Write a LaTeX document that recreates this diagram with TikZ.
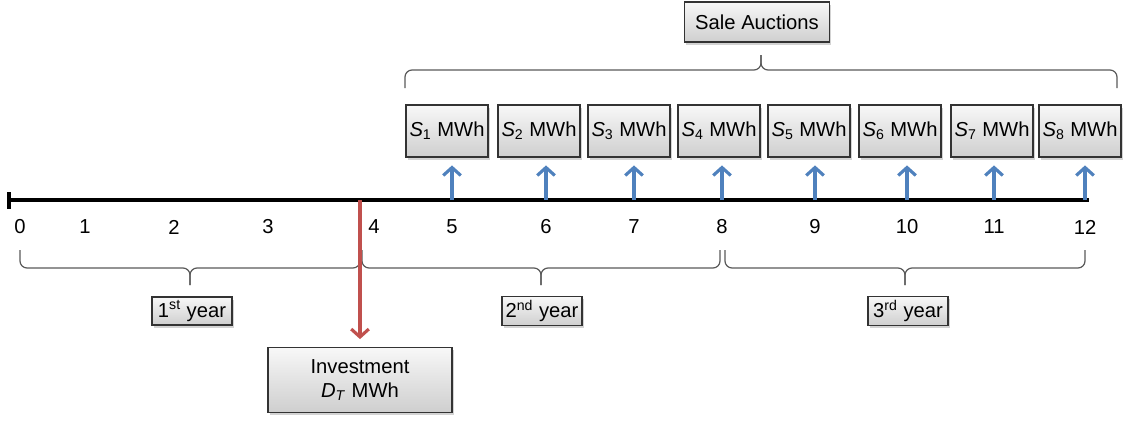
\documentclass[tikz,border=0pt]{standalone}
\usepackage{fontspec}
\setmainfont{Liberation Sans}
\usetikzlibrary{arrows.meta, positioning, shadows}
\definecolor{axblue}{HTML}{4F81BD}
\definecolor{axred}{HTML}{C0504D}
\definecolor{bracegray}{HTML}{595959}

\newcommand{\curlybrace}[5]{% x1, x2, y ends, y bar, y tip
  \draw[brace] (#1,#3) -- (#1,#4) -- ({(#1+#2)/2},#4) -- ({(#1+#2)/2},#5);
  \draw[brace] (#2,#3) -- (#2,#4) -- ({(#1+#2)/2},#4) -- ({(#1+#2)/2},#5);
}

\begin{document}
\begin{tikzpicture}[
    x=0.02cm, y=-0.02cm,
    every node/.style={font=\fontsize{11.5}{13.5}\selectfont},
    gbox/.style={draw=black!80, line width=0.6pt, top color=gray!6, bottom color=gray!38,
                 drop shadow={shadow xshift=1pt, shadow yshift=-1.5pt, opacity=0.35},
                 align=center, inner sep=2pt},
    salebox/.style={gbox, minimum width=1.56cm, minimum height=1.04cm},
    yearbox/.style={gbox, minimum width=1.6cm, minimum height=0.56cm},
    tick/.style={inner sep=0pt},
    sarr/.style={-{Straight Barb[length=4.5pt, width=10pt]}, line width=1.8pt, axblue},
    darr/.style={-{Straight Barb[length=4.5pt, width=10pt]}, line width=1.8pt, axred},
    brace/.style={bracegray, line width=0.7pt, rounded corners=4pt},
  ]
  \useasboundingbox (0,0) rectangle (1129,420);

  % time axis
  \coordinate (start) at (9,200);
  \coordinate (stop)  at (1089,200);
  \draw[line width=2pt] (start) -- (stop);
  \draw[line width=2pt] ([yshift=4.5pt]start) -- ([yshift=-5pt]start);

  % period numbers
  \foreach \x [count=\i from 0] in {20,85,174,268,374,452,546,634,722,815,907,994,1085}
    \node[tick] (t\i) at (\x,227) {\i};

  % sale boxes and arrows
  \foreach \x [count=\i] in {447,539,629,719,809,900,992,1080}
    \node[salebox] (s\i) at (\x,131) {\textit{S}\textsubscript{\i} MWh};
  \foreach \x [count=\i] in {452,546,634,722,815,907,994,1085} {
    \coordinate (a\i) at (\x,200);
    \draw[sarr, shorten >=4.5pt] (a\i) -- (a\i |- s\i.south);
  }

  % sale auctions
  \node[gbox, minimum width=2.9cm, minimum height=0.8cm] (sale) at (757,22) {Sale Auctions};
  \curlybrace{405}{1117}{88}{70}{55}

  % years
  \curlybrace{20}{360}{250}{268}{285}
  \curlybrace{362}{720}{250}{268}{285}
  \curlybrace{725}{1085}{250}{268}{285}
  \node[yearbox] (y1) at (192,311) {1\textsuperscript{st} year};
  \node[yearbox] (y2) at (542,311) {2\textsuperscript{nd} year};
  \node[yearbox] (y3) at (908,311) {3\textsuperscript{rd} year};

  % investment
  \node[gbox, minimum width=3.68cm, minimum height=1.3cm] (inv) at (360,380)
    {Investment\\\textit{D}\textsubscript{\textit{T}} MWh};
  \coordinate (dec) at (360,200);
  \draw[darr, shorten >=4.5pt] (dec) -- (inv.north);
\end{tikzpicture}
\end{document}
